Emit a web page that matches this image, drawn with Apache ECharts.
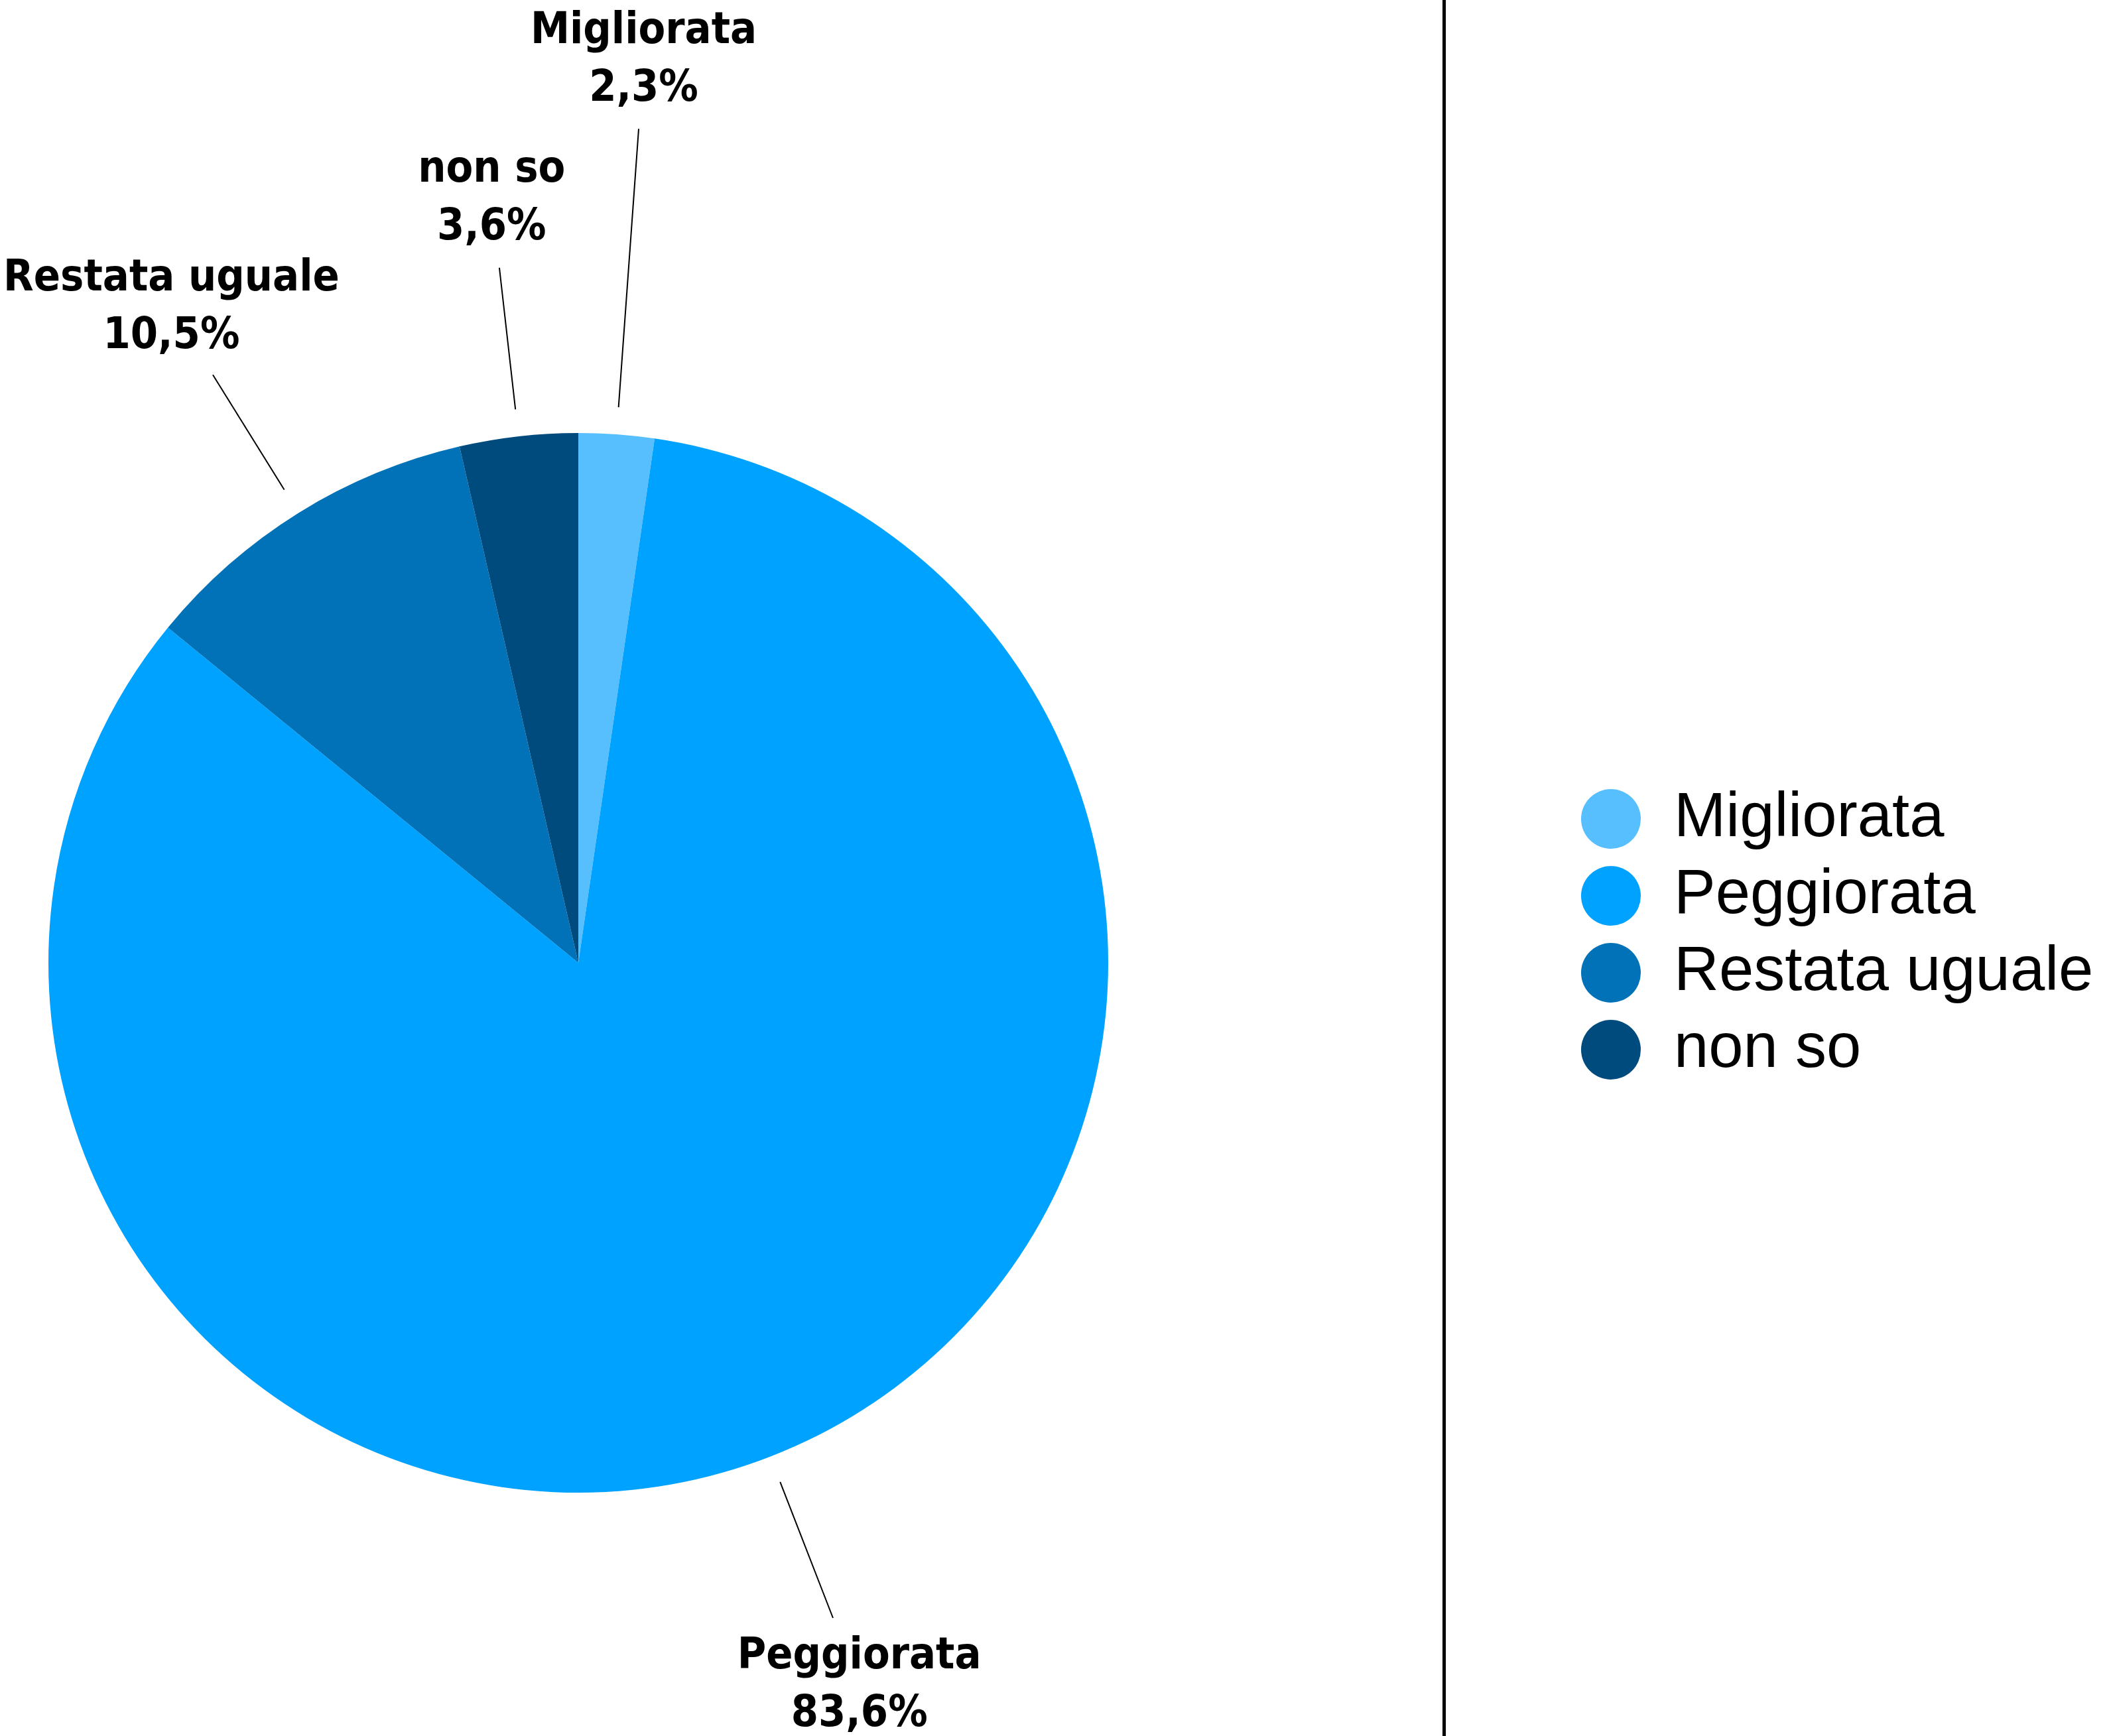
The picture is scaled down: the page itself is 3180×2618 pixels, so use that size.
<!DOCTYPE html>
<html>
<head>
<meta charset="utf-8">
<script src="https://cdn.jsdelivr.net/npm/echarts@6/dist/echarts.min.js"></script>
<style>html,body{margin:0;padding:0;background:#fff;}#chart{width:3180px;height:2618px;}</style>
</head>
<body>
<div id="chart"></div>
<script>
// Data
const categories = ['Migliorata', 'Peggiorata', 'Restata uguale', 'non so'];
const values = [2.3, 83.6, 10.5, 3.6];

// Styles
const colors = ['#58BFFF', '#00A2FF', '#0172B8', '#004B7D'];
const visibleLineLengths = [421, 220, 204, 215];
const lineGap = 41;      // gap between pie edge and start of label line
const labelGap = 16;     // gap between end of label line and label box

const chart = echarts.init(document.getElementById('chart'), null, {renderer: 'canvas'});

const seriesData = categories.map((name, i) => ({
  name: name,
  value: values[i],
  itemStyle: {color: colors[i]},
  labelLine: {length: visibleLineLengths[i] + lineGap, length2: 0}
}));

const option = {
  backgroundColor: '#ffffff',
  animation: false,
  legend: {
    orient: 'vertical',
    left: 2379,
    top: 1183,
    icon: 'circle',
    itemWidth: 90,
    itemHeight: 90,
    itemGap: 22,
    data: categories,
    textStyle: {
      fontFamily: "'Liberation Sans', Arial, sans-serif",
      fontSize: 94,
      color: '#000',
      padding: [0, 0, 0, 45]
    },
    selectedMode: false
  },
  graphic: [{
    type: 'line',
    shape: {x1: 2177.5, y1: 0, x2: 2177.5, y2: 2618},
    style: {stroke: '#000', lineWidth: 5},
    silent: true
  }],
  series: [{
    type: 'pie',
    center: [872, 1452],
    radius: 799,
    startAngle: 90,
    clockwise: true,
    avoidLabelOverlap: false,
    silent: true,
    data: seriesData,
    label: {
      show: true,
      position: 'outside',
      overflow: 'none',
      formatter: p => p.name + '\n' + p.value.toFixed(1).replace('.', ',') + '%',
      fontFamily: "'Liberation Sans Narrow', 'DejaVu Sans Condensed', sans-serif",
      fontWeight: 'bold',
      fontSize: 66,
      lineHeight: 87,
      color: '#000',
      align: 'center'
    },
    labelLine: {
      show: true,
      lineStyle: {color: '#000', width: 2}
    },
    labelLayout: function (params) {
      const pts = params.labelLinePoints;
      if (!pts) return {};
      const p0 = pts[0], p1 = pts[1];
      const dx = p1[0] - p0[0], dy = p1[1] - p0[1];
      const len = Math.hypot(dx, dy);
      const ux = dx / len, uy = dy / len;
      const w = params.labelRect.width / 2, h = params.labelRect.height / 2;
      const dW = Math.abs(ux) > 1e-6 ? w / Math.abs(ux) : Infinity;
      const dH = Math.abs(uy) > 1e-6 ? h / Math.abs(uy) : Infinity;
      const d = Math.min(dW, dH) + labelGap;
      return {
        x: p1[0] + ux * d,
        y: p1[1] + uy * d,
        align: 'center',
        verticalAlign: 'middle',
        labelLinePoints: [[p0[0] + ux * lineGap, p0[1] + uy * lineGap], [p1[0], p1[1]], [p1[0], p1[1]]]
      };
    }
  }]
};
chart.setOption(option);
</script>
</body>
</html>
